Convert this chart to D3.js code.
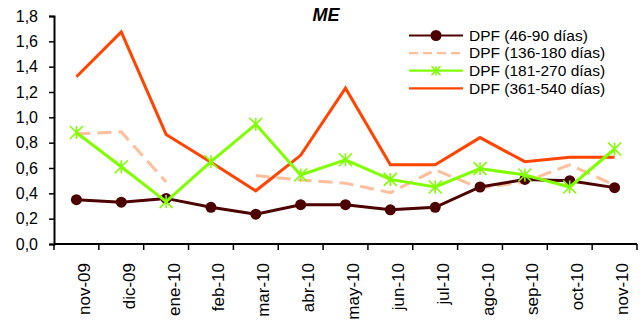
<!DOCTYPE html>
<html><head><meta charset="utf-8">
<script src="https://cdn.jsdelivr.net/npm/d3@7"></script>
<style>body{margin:0;background:#fff}svg{display:block;font-family:"Liberation Sans",Arial,sans-serif}</style>
</head><body><svg id="c" width="642" height="322"></svg>
<script>
const categories = ["nov-09","dic-09","ene-10","feb-10","mar-10","abr-10","may-10","jun-10","jul-10","ago-10","sep-10","oct-10","nov-10"];
const dpf46_90   = [0.35,0.33,0.36,0.29,0.235,0.31,0.31,0.27,0.29,0.45,0.51,0.50,0.445];
const dpf136_180 = [0.87,0.885,0.49,null,0.54,0.505,0.48,0.405,0.585,0.44,0.49,0.625,0.465];
const dpf181_270 = [0.88,0.61,0.335,0.65,0.945,0.545,0.665,0.51,0.45,0.595,0.545,0.45,0.75];
const dpf361_540 = [1.32,1.675,0.865,0.645,0.42,0.70,1.23,0.625,0.625,0.84,0.65,0.685,0.685];
const yTicks = [0,0.2,0.4,0.6,0.8,1.0,1.2,1.4,1.6,1.8];
const seriesNames = ["DPF (46-90 días)","DPF (136-180 días)","DPF (181-270 días)","DPF (361-540 días)"];
const title = "ME";

(function(){
const svg = d3.select("#c");
const left = 54, right = 637, topY = 16, bottom = 244;
const x = d3.scaleBand().domain(categories).range([left, right]);
const y = d3.scaleLinear().domain([0,1.8]).range([bottom, topY]);
const fmt = d => d.toFixed(1).replace(".", ",");

const yAxis = svg.append("g").attr("transform",`translate(${left},0)`)
  .call(d3.axisLeft(y).tickValues(yTicks).tickFormat(fmt).tickSize(5).tickPadding(11));
yAxis.select(".domain").attr("stroke","#000").attr("stroke-width",2);
yAxis.selectAll(".tick line").attr("stroke","#000").attr("stroke-width",1.5);
yAxis.selectAll("text").attr("font-size",16).attr("fill","#000").attr("font-family","Liberation Sans, Arial");

const xAxis = svg.append("g").attr("transform",`translate(0,${bottom})`);
xAxis.append("line").attr("x1",left).attr("x2",right).attr("stroke","#000").attr("stroke-width",2);
const bounds = categories.map(c=>x(c)).concat([right]);
xAxis.selectAll("line.t").data(bounds).enter().append("line").attr("class","t")
  .attr("x1",d=>d).attr("x2",d=>d).attr("y1",0).attr("y2",6).attr("stroke","#000").attr("stroke-width",1.5);
xAxis.selectAll("text").data(categories).enter().append("text")
  .attr("transform",d=>`translate(${x(d)+x.bandwidth()/2+13.5},19) rotate(-90)`)
  .attr("text-anchor","end").attr("font-size",17).attr("fill","#000").text(d=>d);

const cx = d => x(d) + x.bandwidth()/2;
const line = d3.line().defined(d=>d.v!=null).x(d=>cx(d.c)).y(d=>y(d.v));
const mk = arr => categories.map((c,i)=>({c, v:arr[i]}));

const cols = {a:"#4d0000", b:"#ffbf9c", c:"#80ff00", d:"#ff4500"};

svg.append("path").datum(mk(dpf136_180)).attr("d",line).attr("fill","none")
  .attr("stroke",cols.b).attr("stroke-width",3).attr("stroke-dasharray","14,7");
svg.append("path").datum(mk(dpf361_540)).attr("d",line).attr("fill","none")
  .attr("stroke",cols.d).attr("stroke-width",3);
svg.append("path").datum(mk(dpf46_90)).attr("d",line).attr("fill","none")
  .attr("stroke",cols.a).attr("stroke-width",3);
svg.selectAll("circle.a").data(mk(dpf46_90)).enter().append("circle")
  .attr("cx",d=>cx(d.c)).attr("cy",d=>y(d.v)).attr("r",5.5).attr("fill",cols.a);
svg.append("path").datum(mk(dpf181_270)).attr("d",line).attr("fill","none")
  .attr("stroke",cols.c).attr("stroke-width",3);
function star(g, px, py, s){
  g.append("path").attr("d",`M${px-s},${py-s}L${px+s},${py+s}M${px-s},${py+s}L${px+s},${py-s}M${px},${py-s}L${px},${py+s}`)
   .attr("stroke",cols.c).attr("stroke-width",1.6).attr("fill","none");
}
const sg = svg.append("g");
mk(dpf181_270).forEach(d=>star(sg, cx(d.c), y(d.v), 6.5));

svg.append("text").attr("x",326).attr("y",21).attr("text-anchor","middle")
  .attr("font-size",18).attr("font-weight","bold").attr("font-style","italic").text(title);

const lg = svg.append("g");
const lx1 = 409, lx2 = 463, ly0 = 35.5, ldy = 17.6;
seriesNames.forEach((n,i)=>{
  const yy = ly0 + i*ldy;
  const col = [cols.a,cols.b,cols.c,cols.d][i];
  const l = lg.append("line").attr("x1",lx1).attr("x2",lx2).attr("y1",yy).attr("y2",yy)
    .attr("stroke",col).attr("stroke-width",i===0?2:2.2);
  if(i===1) l.attr("stroke-dasharray","9,5");
  if(i===0) lg.append("circle").attr("cx",(lx1+lx2)/2).attr("cy",yy).attr("r",5.5).attr("fill",col);
  if(i===2) star(lg,(lx1+lx2)/2,yy,4.5);
  lg.append("text").attr("x",469).attr("y",yy+5.2).attr("font-size",15.5).attr("fill","#000").text(n);
});
})();
</script></body></html>
